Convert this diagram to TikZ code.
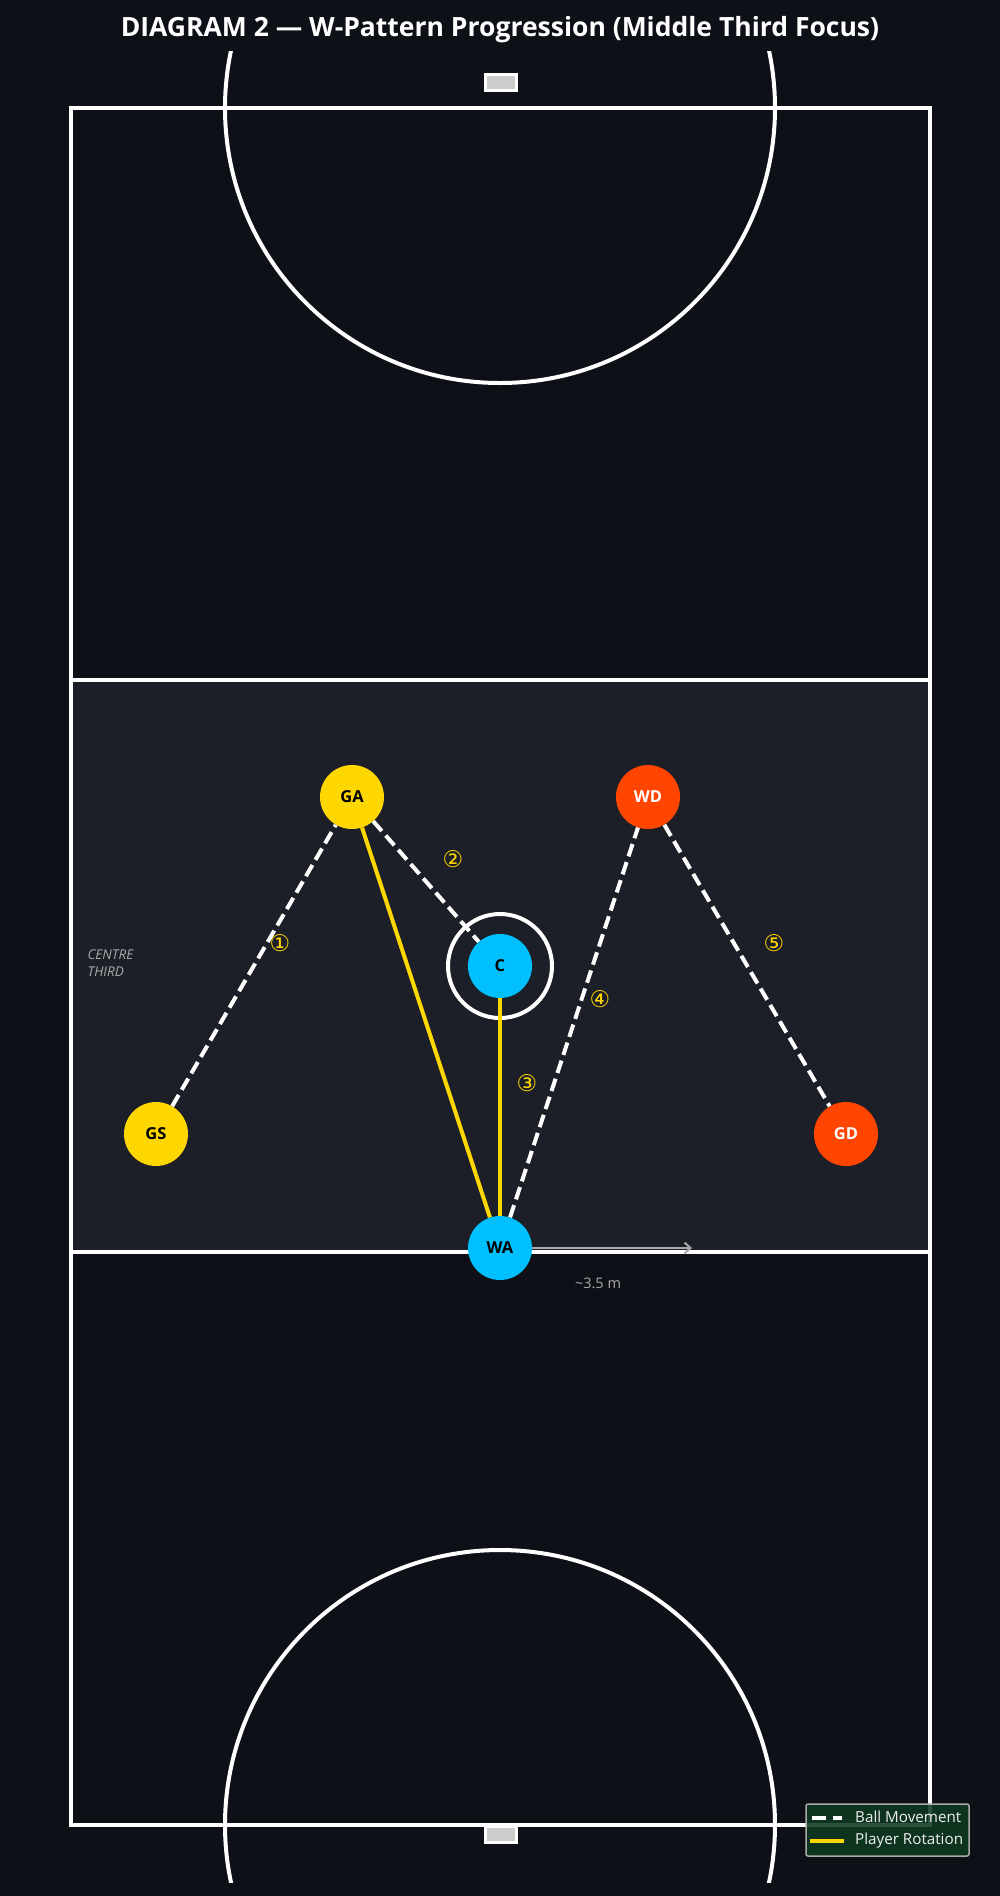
\documentclass[tikz,border=0pt]{standalone}
\usepackage{fontspec}
\setmainfont{Open Sans}
\newfontfamily\symfont{DejaVu Sans}
\usetikzlibrary{arrows.meta,calc}
\definecolor{BgClr}{HTML}{0D1017}
\definecolor{ThirdClr}{HTML}{1C1F27}
\definecolor{AttackClr}{HTML}{FFD700}
\definecolor{CentreClr}{HTML}{00BFFF}
\definecolor{DefendClr}{HTML}{FF4500}
\definecolor{PostClr}{HTML}{CCCCCC}
\definecolor{NoteClr}{HTML}{AAAAAA}
\definecolor{LegendClr}{HTML}{0F3A22}
\tikzset{
  player/.style={circle,fill=#1,minimum size=64pt,inner sep=0pt,
    font=\bfseries\fontsize{16.5}{16.5}\selectfont},
  courtline/.style={white,line width=4pt},
  ball/.style={white,line width=4pt,dash pattern=on 13pt off 6pt},
  rotation/.style={AttackClr,line width=4pt},
  num/.style={text=AttackClr,font=\symfont\fontsize{23}{23}\selectfont},
  note/.style={text=NoteClr,font=\fontsize{14.5}{16}\selectfont},
}

\begin{document}
\begin{tikzpicture}[x=1pt,y=-1pt]
\fill[BgClr] (0,0) rectangle (1000,1896);
\useasboundingbox (0,0) rectangle (1000,1896);

% court
\fill[ThirdClr] (71,680) rectangle (930,1252);
\draw[courtline] (71,108) rectangle (930,1825);
\draw[courtline] (71,680) -- (930,680);
\draw[courtline] (71,1252) -- (930,1252);
\begin{scope}
\clip (0,51) rectangle (1000,1882);
\draw[courtline] (500,108) circle (275);
\draw[courtline] (500,1825) circle (275);
\end{scope}
\draw[white,line width=3pt,fill=PostClr] (485,74) rectangle (516,90);
\draw[white,line width=3pt,fill=PostClr] (485,1826) rectangle (516,1842);

\node[text=white,font=\bfseries\fontsize{26.5}{26.5}\selectfont] (title) at (500,30)
  {DIAGRAM 2 — W-Pattern Progression (Middle Third Focus)};

% players
\draw[white,line width=4pt] (500,966) circle (52);
\node[player=AttackClr] (GA) at (352,797) {GA};
\node[player=AttackClr] (GS) at (156,1134) {GS};
\node[player=CentreClr] (C) at (500,966) {C};
\node[player=DefendClr,text=white] (WD) at (648,797) {WD};
\node[player=DefendClr,text=white] (GD) at (846,1134) {GD};
\node[player=CentreClr] (WA) at (500,1248) {WA};

\draw[rotation] (GA) -- (WA);
\draw[rotation] (C) -- (WA);
\draw[ball] (GS) -- (GA);
\draw[ball] (GA) -- (C);
\draw[ball] (WA) -- (WD);
\draw[ball] (WD) -- (GD);

\node[num] (n1) at (280,943) {①};
\node[num] (n2) at (453,859) {②};
\node[num] (n3) at (527,1083) {③};
\node[num] (n4) at (600,999) {④};
\node[num] (n5) at (774,943) {⑤};

\node[note,anchor=north west,align=left,font=\itshape\fontsize{13.5}{17}\selectfont]
  (third) at (84,946) {CENTRE\\THIRD};

\coordinate (runEnd) at (692,1248);
\draw[NoteClr,line width=2pt,-{Straight Barb[length=6pt,width=11pt]}] (WA.east) -- (runEnd);
\node[note] (run) at (598,1283) {\textasciitilde3.5 m};

% legend
\node[draw=NoteClr,line width=1.5pt,fill=LegendClr,fill opacity=0.88,rounded corners=2pt,
  minimum width=163pt,minimum height=52pt] (legend) at (887.5,1830) {};
\coordinate (lgA) at (812,1818);
\coordinate (lgB) at (842,1818);
\coordinate (lgC) at (810,1841);
\coordinate (lgD) at (844,1841);
\draw[white,line width=4pt,dash pattern=on 14pt off 7pt] (lgA) -- (lgB);
\draw[AttackClr,line width=4pt] (lgC) -- (lgD);
\node[anchor=west,text=white!93!black,font=\fontsize{15.2}{15}\selectfont,inner sep=0pt]
  (lgBall) at (855,1817) {Ball Movement};
\node[anchor=west,text=white!93!black,font=\fontsize{15.2}{15}\selectfont,inner sep=0pt]
  (lgRot) at (855,1841) {Player Rotation};
\end{tikzpicture}
\end{document}
